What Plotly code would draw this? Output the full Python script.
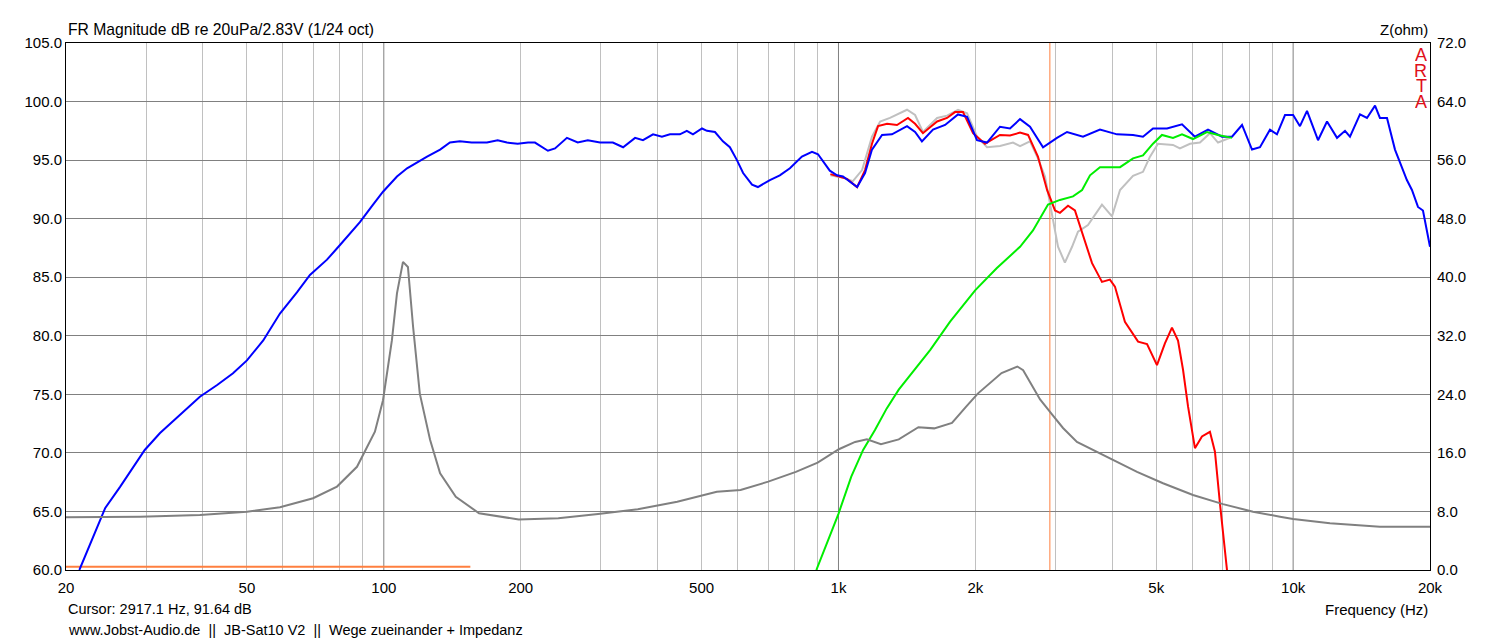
import plotly.graph_objects as go

# --- curve data ---
sum_hz = [21.4, 24.4, 26.3, 28.1, 29.8, 32.2, 35.1, 39.4, 43.0, 46.6, 50, 54.3, 59.1, 64.4, 68.8,
          75.0, 80.1, 88.6, 94.7, 99.6, 106.9, 112.5, 124.5, 133, 139.8, 147, 156, 168.6, 178,
          186.6, 197, 207.6, 215, 229.6, 238, 252.8, 267, 281, 299, 319, 336, 357, 371.6, 391,
          409, 426, 448, 464, 478.6, 501, 513.8, 535, 557, 577, 598, 617, 645.5, 665, 706.6,
          743, 782, 831, 874.6, 901.6, 957, 992.6, 1023, 1099, 1144, 1185, 1247, 1311, 1415,
          1474, 1526, 1614, 1716, 1832, 1918, 2017, 2122, 2266, 2384, 2508, 2638, 2818, 3024,
          3182, 3450, 3760, 4099, 4445, 4675, 4918, 5280, 5696, 6082, 6498, 6976, 7337, 7720,
          8120, 8454, 8892, 9214, 9597, 10000, 10352, 10728, 11344, 11872, 12490, 13004, 13336,
          14030, 14536, 15140, 15520, 16086, 16750, 17790, 18252, 18820, 19300, 20000]
sum_db = [60.0, 65.3, 67.1, 68.8, 70.25, 71.7, 73.06, 74.8, 75.8, 76.8, 77.9, 79.6, 81.9, 83.7, 85.2,
          86.5, 87.75, 89.7, 91.2, 92.3, 93.6, 94.3, 95.3, 95.9, 96.5, 96.6, 96.5, 96.5, 96.7,
          96.5, 96.4, 96.5, 96.5, 95.8, 96.0, 96.9, 96.5, 96.7, 96.5, 96.5, 96.1, 96.9, 96.7, 97.2,
          97.0, 97.2, 97.2, 97.5, 97.2, 97.7, 97.5, 97.4, 96.6, 96.1, 95.0, 93.9, 92.9, 92.7, 93.3,
          93.7, 94.3, 95.3, 95.7, 95.5, 94.1, 93.7, 93.6, 92.7, 93.9, 95.9, 97.15, 97.2, 97.9,
          97.4, 96.6, 97.6, 98.0, 98.9, 98.7, 96.7, 96.5, 97.85, 97.7, 98.5, 97.85, 96.1, 96.9,
          97.4, 97.0, 97.6, 97.2, 97.15, 97.0, 97.7, 97.7, 98.05, 97.0, 97.6, 97.0, 97.0, 98.0,
          95.9, 96.1, 97.6, 97.2, 98.85, 98.85, 97.9, 99.2, 96.7, 98.3, 96.9, 97.5, 97.0,
          98.9, 98.6, 99.65, 98.6, 98.6, 95.9, 93.3, 92.45, 91.0, 90.7, 87.6]

woofer_hz = [960, 1044, 1099, 1144, 1185, 1222, 1279, 1345, 1422, 1474, 1534, 1648, 1733, 1804,
             1879, 1977, 2100, 2266, 2384, 2508, 2612, 2746, 2876, 2994, 3070, 3198, 3312, 3434,
             3522, 3612, 3798, 3954, 4056, 4266, 4560, 4772, 5018, 5224, 5414, 5582, 5726, 5874,
             6082, 6302, 6562, 6730, 6902, 7154]
woofer_db = [93.8, 93.4, 92.7, 94.15, 96.4, 97.9, 98.1, 98.0, 98.6, 98.1, 97.3, 98.3, 98.6, 99.1,
             99.1, 97.3, 96.4, 97.15, 97.1, 97.35, 97.15, 95.3, 92.45, 90.7, 90.5, 91.1, 90.7, 88.9,
             87.6, 86.2, 84.6, 84.8, 84.2, 81.2, 79.5, 79.3, 77.5, 79.35, 80.7, 79.6, 77.1, 73.95,
             70.4, 71.4, 71.8, 70.1, 65.7, 60.0]

inverted_hz = [960, 1023, 1076, 1127, 1185, 1235, 1298, 1365, 1415, 1474, 1534, 1648, 1733, 1832,
               1918, 2017, 2122, 2266, 2420, 2508, 2638, 2746, 2846, 2964, 3040, 3148, 3264, 3364,
               3538, 3798, 3996, 4162, 4445, 4675, 4844, 5044, 5442, 5636, 5932, 6238, 6562, 6836,
               7262]
inverted_db = [93.7, 93.5, 93.2, 94.15, 97.0, 98.3, 98.6, 99.0, 99.3, 98.85, 97.4, 98.6, 98.8, 99.3,
               99.0, 97.0, 96.1, 96.2, 96.5, 96.2, 96.6, 95.15, 93.6, 89.9, 87.6, 86.25, 87.6, 88.9,
               89.45, 91.2, 90.2, 92.45, 93.65, 94.0, 95.3, 96.4, 96.3, 96.0, 96.4, 96.5, 97.3, 96.5,
               96.9]

tweeter_hz = [894, 1000, 1067, 1133, 1203, 1277, 1357, 1455, 1592, 1760, 2000, 2228, 2508, 2678,
              2890, 3070, 3280, 3434, 3575, 3760, 3954, 4162, 4445, 4675, 4918, 5146, 5442, 5696,
              6022, 6464, 6836, 7337]
tweeter_db = [60.0, 64.8, 67.97, 70.25, 71.95, 73.8, 75.4, 76.9, 78.8, 81.2, 83.9, 85.76, 87.6, 89.0,
              91.2, 91.6, 91.9, 92.45, 93.7, 94.4, 94.4, 94.4, 95.15, 95.4, 96.4, 97.15, 96.9, 97.2,
              96.8, 97.4, 97.15, 96.9]

imp_hz = [20, 29.1, 39.4, 50, 59.1, 69.9, 78.9, 87.3, 95.6, 99.6, 104.2, 106.9, 110.2, 113, 116,
          120, 126.4, 133, 144, 162, 198, 242, 296, 362, 442, 540, 609, 700.6, 806, 900, 1002,
          1088, 1155, 1240, 1357, 1499, 1624, 1777, 1907, 2025, 2284, 2474, 2548, 2776, 2955,
          3118, 3346, 3630, 4016, 4536, 5174, 6022, 7010, 8160, 9356, 10000, 12052, 15520, 20000]
imp_ohm = [7.2, 7.28, 7.5, 7.97, 8.57, 9.8, 11.4, 14.1, 18.9, 23.2, 31.4, 37.8, 42.1, 41.4, 33.2,
           24.1, 17.8, 13.2, 10.0, 7.75, 6.9, 7.06, 7.65, 8.3, 9.33, 10.7, 10.93, 12.07, 13.4, 14.66,
           16.5, 17.5, 17.85, 17.2, 17.85, 19.5, 19.35, 20.1, 22.3, 24.1, 26.9, 27.8, 27.3, 23.3,
           21.2, 19.4, 17.5, 16.4, 15.0, 13.4, 11.85, 10.25, 9.0, 7.97, 7.28, 6.97, 6.38, 5.92, 5.92]

marker_hz = [20, 155]
marker_db = [60.28, 60.28]
cursor_hz = 2917.1
cursor_db = 91.64

tick_vals = [20, 50, 100, 200, 500, 1000, 2000, 5000, 10000, 20000]
tick_text = ['20', '50', '100', '200', '500', '1k', '2k', '5k', '10k', '20k']
decades = [100, 1000, 10000]
minor_vals = [m * 10 ** e for e in (1, 2, 3) for m in range(2, 10)
              if 20 < m * 10 ** e < 20000 and m * 10 ** e not in decades]

db_range = [60, 105]
ohm_range = [0, 72]

FONT = 'Liberation Sans, Arial, sans-serif'

fig = go.Figure()
fig.add_trace(go.Scatter(x=imp_hz, y=imp_ohm, yaxis='y2', mode='lines',
                         line=dict(color='#808080', width=2), name='Z'))
fig.add_trace(go.Scatter(x=marker_hz, y=marker_db, mode='lines',
                         line=dict(color='#ff7f3f', width=2), name='marker'))
fig.add_trace(go.Scatter(x=[cursor_hz, cursor_hz], y=db_range, mode='lines',
                         line=dict(color='#ff7f3f', width=1), name='cursor'))
fig.add_trace(go.Scatter(x=inverted_hz, y=inverted_db, mode='lines',
                         line=dict(color='#c0c0c0', width=2), name='sum inverted'))
fig.add_trace(go.Scatter(x=woofer_hz, y=woofer_db, mode='lines',
                         line=dict(color='#ff0000', width=2), name='woofer'))
fig.add_trace(go.Scatter(x=sum_hz, y=sum_db, mode='lines',
                         line=dict(color='#0000ff', width=2), name='sum'))
fig.add_trace(go.Scatter(x=tweeter_hz, y=tweeter_db, mode='lines',
                         line=dict(color='#00ee00', width=2), name='tweeter'))

# darker decade grid lines
for d in decades:
    fig.add_shape(type='line', xref='x', yref='paper', x0=d, x1=d, y0=0, y1=1,
                  line=dict(color='#808080', width=1), layer='below')

annotations = [
    dict(text='FR Magnitude dB re 20uPa/2.83V (1/24 oct)', x=0, y=1, xanchor='left', yanchor='bottom',
         yshift=3, font=dict(size=15.7)),
    dict(text='Z(ohm)', x=1, y=1, xanchor='right', yanchor='bottom', yshift=3, font=dict(size=15)),
    dict(text='Cursor: %.1f Hz, %.2f dB' % (cursor_hz, cursor_db), x=0, y=0, xanchor='left',
         yanchor='top', yshift=-29, font=dict(size=14.5)),
    dict(text='www.Jobst-Audio.de\u00a0\u00a0||\u00a0\u00a0JB-Sat10 V2\u00a0\u00a0||\u00a0\u00a0Wege zueinander + Impedanz',
         x=0, y=0, xanchor='left', yanchor='top', yshift=-50, font=dict(size=14.5)),
    dict(text='Frequency (Hz)', x=1, y=0, xanchor='right', yanchor='top', yshift=-29, font=dict(size=15)),
]
# stacked red ARTA logo letters, boxes kept tight so they don't overlap
for i, ch in enumerate('ARTA'):
    annotations.append(dict(text=ch, x=1, y=1, xanchor='right', yanchor='top', xshift=-2,
                            yshift=-4 - i * 15.7, height=14, valign='middle', borderpad=0,
                            font=dict(size=18, color='#e0101a')))
for a in annotations:
    a.update(xref='paper', yref='paper', showarrow=False)
    a['font'].setdefault('color', '#000000')
    a['font']['family'] = FONT

# the page body adds an 8px margin, so the figure is shrunk by that amount
fig.update_layout(
    width=1486, height=634, autosize=False,
    margin=dict(l=58, r=64, t=35, b=72),
    paper_bgcolor='white', plot_bgcolor='white',
    showlegend=False,
    font=dict(family=FONT, size=15, color='#000000'),
    xaxis=dict(type='log', range=[1.30103, 4.30103], tickvals=tick_vals, ticktext=tick_text,
               showgrid=False, ticks='', showline=True, linecolor='black', linewidth=1, mirror=True,
               zeroline=False, ticklabelstandoff=4,
               minor=dict(tickvals=minor_vals, showgrid=True, gridcolor='#c0c0c0', gridwidth=1, ticks='')),
    yaxis=dict(range=db_range, dtick=5, tickformat='.1f', showgrid=True, gridcolor='#808080',
               gridwidth=1, ticks='', showline=True, linecolor='black', linewidth=1, mirror=True,
               zeroline=False),
    yaxis2=dict(range=ohm_range, dtick=8, tickformat='.1f', overlaying='y', side='right',
                showgrid=False, ticks='', showline=True, linecolor='black', linewidth=1,
                zeroline=False, ticklabelstandoff=3),
    annotations=annotations,
)

fig.write_html("out.html")
